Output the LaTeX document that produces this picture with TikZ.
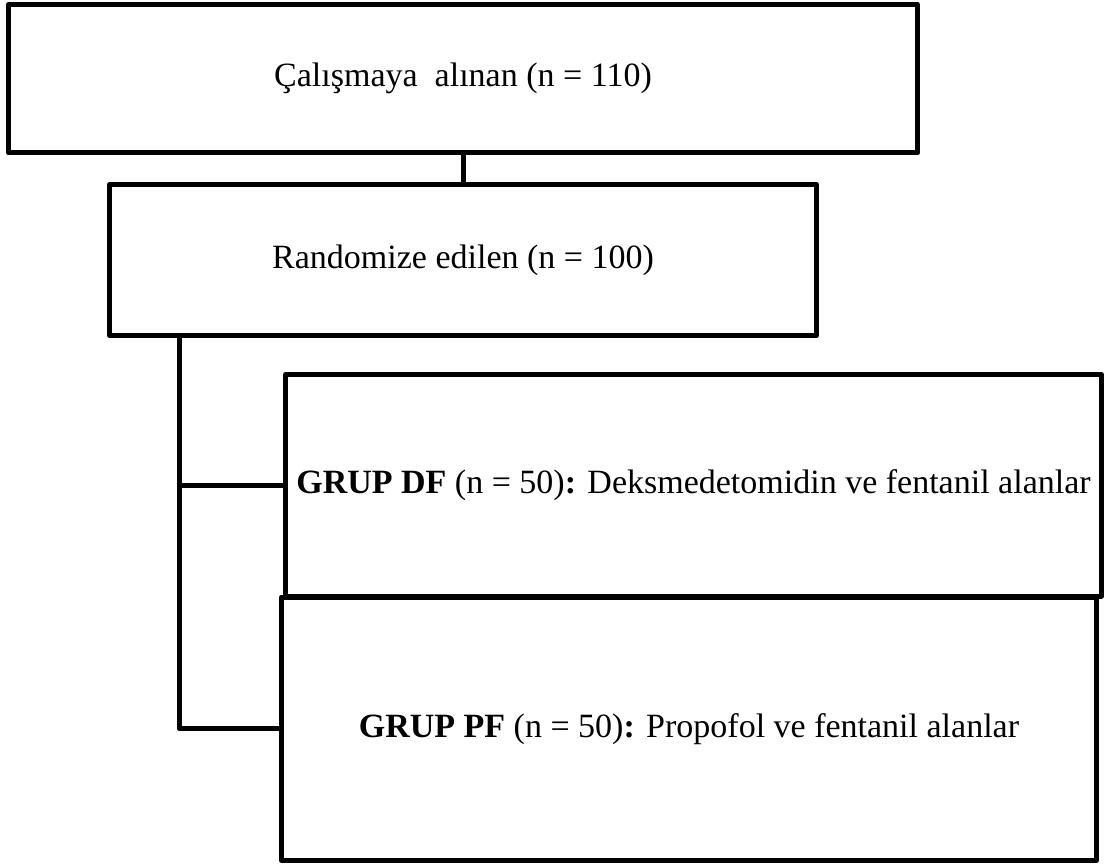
\documentclass[tikz,border=0pt]{standalone}
\usepackage{fontspec}
\setmainfont{Liberation Serif}

\begin{document}
\begin{tikzpicture}[x=1pt, y=-1pt, line width=5pt, line join=round,
    box/.style={draw, line width=5pt, inner sep=0pt, font=\fontsize{34}{40}\selectfont}]
    \useasboundingbox (0,0) rectangle (1107,866);
    \node[box, minimum width=909pt, minimum height=148.5pt] (alinan) at (463,78.75) {Çalışmaya~ alınan (n = 110)};
    \node[box, minimum width=707pt, minimum height=151pt] (random) at (463,260) {Randomize edilen (n = 100)};
    \node[box, minimum width=816pt, minimum height=221.5pt] (grupdf) at (693.5,485.25) {\textbf{GRUP DF} (n = 50)\textbf{:} Deksmedetomidin ve fentanil alanlar};
    \node[box, minimum width=815pt, minimum height=263.5pt] (gruppf) at (689,728.75) {\textbf{GRUP PF} (n = 50)\textbf{:} Propofol ve fentanil alanlar};
    \coordinate (trunk) at (179.5,0);
    \draw (alinan.south) -- (random.north);
    \draw (random.south -| trunk) |- (gruppf.west);
    \draw (grupdf.west) -- (grupdf.west -| trunk);
\end{tikzpicture}
\end{document}
